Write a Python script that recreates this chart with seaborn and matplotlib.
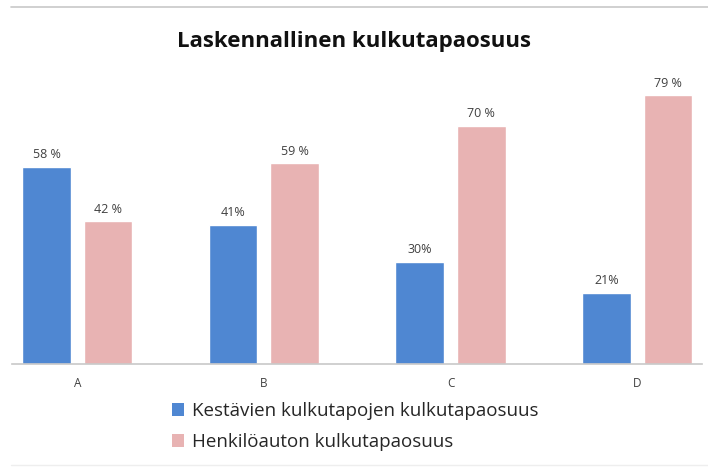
import numpy as np
import pandas as pd
import matplotlib
matplotlib.use("Agg")
import matplotlib.pyplot as plt
from matplotlib.patches import Patch
import seaborn as sns

categories = ["A", "B", "C", "D"]
series_names = ["Kestävien kulkutapojen kulkutapaosuus", "Henkilöauton kulkutapaosuus"]
sustainable = [58, 41, 30, 21]
car = [42, 59, 70, 79]
sustainable_labels = ["58 %", "41%", "30%", "21%"]
car_labels = ["42 %", "59 %", "70 %", "79 %"]
title = "Laskennallinen kulkutapaosuus"

colors = ["#4F87D2", "#E8B3B3"]

sns.set_theme(style="white")
plt.rcParams["font.family"] = ["Open Sans", "DejaVu Sans"]

df = pd.DataFrame({
	"cat": categories * 2,
	"series": [series_names[0]] * 4 + [series_names[1]] * 4,
	"value": sustainable + car,
})

fig = plt.figure(figsize=(7.08, 4.70), dpi=100)
ax = fig.add_axes([0.017, 0.2255, 0.975, 0.615])

sns.barplot(data=df, x="cat", y="value", hue="series", palette=colors,
	width=0.66, gap=0.21, ax=ax, legend=False, saturation=1)

ax.set_xlim(-0.35, 3.35)
ax.set_ylim(0, 85)
ax.set_xlabel("")
ax.set_ylabel("")
ax.set_yticks([])
ax.tick_params(axis="x", length=0, pad=9, labelsize=8.5, labelcolor="#404040")

for s in ["top", "right", "left"]:
	ax.spines[s].set_visible(False)
ax.spines["bottom"].set_color("#C8C8C8")
ax.spines["bottom"].set_linewidth(1.2)

for cont, labs in zip(ax.containers, [sustainable_labels, car_labels]):
	ax.bar_label(cont, labels=labs, padding=4, fontsize=9, color="#404040")

fig.text(0.5, 0.912, title, ha="center", va="center", fontsize=16, fontweight="bold", color="#111111")

handles = [Patch(facecolor=c, edgecolor="none") for c in colors]
fig.legend(handles, series_names, loc="upper left", bbox_to_anchor=(0.243, 0.145),
	frameon=False, fontsize=13.5, handlelength=0.65, handleheight=0.65, handletextpad=0.4,
	labelspacing=0.7, borderaxespad=0, borderpad=0)

# thin frame lines like the screenshot
fig.add_artist(plt.Line2D([0.015, 1.0], [0.985, 0.985], color="#C8C8C8", linewidth=1.2))
fig.add_artist(plt.Line2D([0.015, 1.0], [0.011, 0.011], color="#EEEEEE", linewidth=1))

plt.savefig("out.png", dpi=100)
